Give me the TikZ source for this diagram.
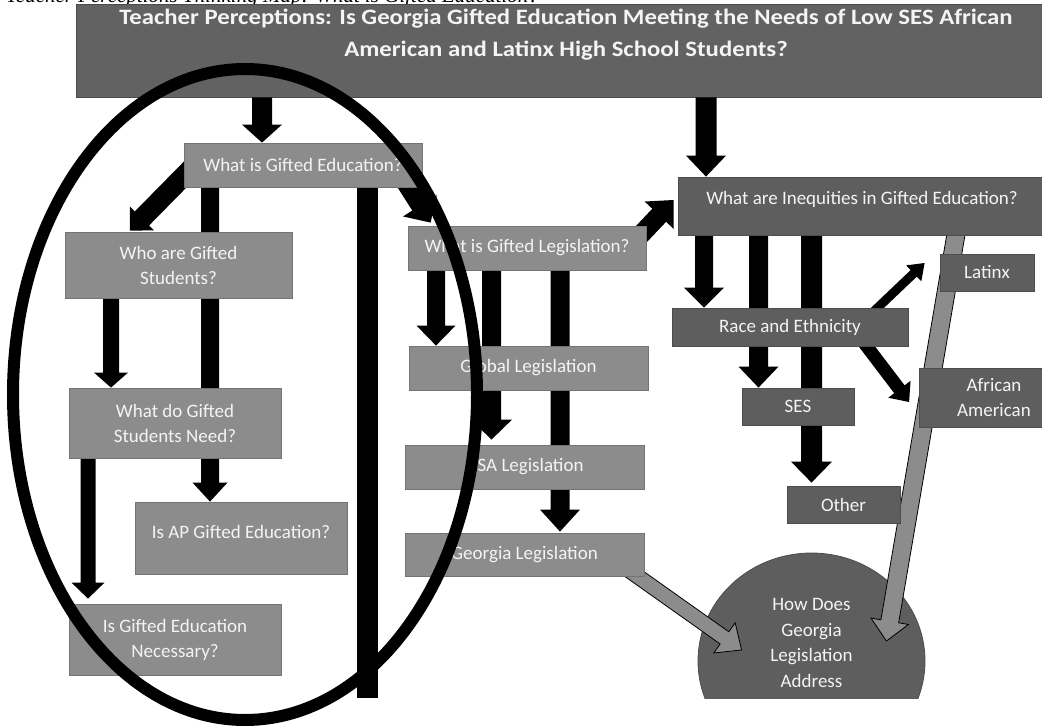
\documentclass[tikz,border=0pt]{standalone}
\usepackage{fontspec}
\setmainfont{Carlito}
\newfontfamily\capfont{Liberation Serif}
\usetikzlibrary{calc,shapes.geometric}

\definecolor{lightbox}{HTML}{8C8C8C}
\definecolor{lightedge}{HTML}{747474}
\definecolor{darkbox}{HTML}{5E5E5E}
\definecolor{darkedge}{HTML}{4C4C4C}
\definecolor{titlegray}{HTML}{626262}
\definecolor{boxtext}{HTML}{F4F4F4}

% Block arrow: [style]{from}{to}{half shaft width}{half head width}{head length}
\newcommand{\blockarrow}[6][fill=black,draw=none]{%
  \path (#3) coordinate (ba-t) (#2) coordinate (ba-s);
  \path ($(ba-t)!#6!(ba-s)$) coordinate (ba-h);
  \filldraw[#1] ($(ba-s)!#4!90:(ba-t)$) -- ($(ba-h)!#4!-90:(ba-s)$)
    -- ($(ba-h)!#5!-90:(ba-s)$) -- (ba-t) -- ($(ba-h)!#5!90:(ba-s)$)
    -- ($(ba-h)!#4!90:(ba-s)$) -- ($(ba-s)!#4!-90:(ba-t)$) -- cycle;
}

\tikzset{
  boxfont/.style={font=\fontsize{19}{25}\selectfont},
  lbox/.style={draw=lightedge, line width=0.8pt, fill=lightbox, inner sep=0pt,
    text=boxtext, align=center, boxfont},
  dbox/.style={draw=darkedge, line width=0.8pt, fill=darkbox, inner sep=0pt,
    text=boxtext, align=center, boxfont},
  btxt/.style={text=boxtext, align=center, inner sep=0pt, boxfont},
  ttxt/.style={text=boxtext, inner sep=0pt, anchor=base, xscale=1.125, transform shape,
    font=\bfseries\fontsize{22}{27}\selectfont},
  blk/.style={fill=black, draw=none},
  gry/.style={fill=lightbox, draw=black, line width=0.8pt, line join=miter},
}

\begin{document}
\begin{tikzpicture}[x=1pt,y=-1pt]
\useasboundingbox (0,0) rectangle (1042,727);

% caption running off the top edge
\node[anchor=base west, inner sep=0pt,
  font=\capfont\itshape\fontsize{21}{24}\selectfont] (caption) at (6,3)
  {Teacher Perceptions Thinking Map: What is Gifted Education?};

% title banner
\node[draw=darkedge, line width=0.8pt, fill=titlegray, minimum width=970pt,
  minimum height=93pt, inner sep=0pt] (title) at (561,50.5) {};
\node[ttxt] (titleA) at (566,25)
  {Teacher Perceptions: Is Georgia Gifted Education Meeting the Needs of Low SES African};
\node[ttxt] (titleB) at (566,57) {American and Latinx High School Students?};

% nodes (placed first so connectors can refer to them)
\node[lbox, minimum width=238pt, minimum height=44pt] (wge) at (303,165) {What is Gifted Education?};
\node[lbox, minimum width=227pt, minimum height=66pt] (who) at (178.5,265) {Who are Gifted\\Students?};
\node[lbox, minimum width=212pt, minimum height=70pt] (need) at (175,423) {What do Gifted\\Students Need?};
\node[lbox, minimum width=212pt, minimum height=72pt] (ap) at (241,538) {};
\node[lbox, minimum width=212pt, minimum height=71pt] (nec) at (175,639.5) {Is Gifted Education\\Necessary?};
\node[lbox, minimum width=238pt, minimum height=44pt] (wgl) at (527,248) {What is Gifted Legislation?};
\node[lbox, minimum width=239pt, minimum height=44pt] (glob) at (528.5,368) {Global Legislation};
\node[lbox, minimum width=239pt, minimum height=44pt] (usa) at (524.5,467) {USA Legislation};
\node[lbox, minimum width=239pt, minimum height=43pt] (geo) at (524.5,554.5) {Georgia Legislation};
\node[dbox, minimum width=366pt, minimum height=58pt] (ineq) at (861,206) {};
\node[dbox, minimum width=236pt, minimum height=38pt] (race) at (790,327) {Race and Ethnicity};
\node[dbox, minimum width=94pt, minimum height=37pt] (latinx) at (987,272.5) {Latinx};
\node[dbox, minimum width=150pt, minimum height=59pt] (afam) at (994,397.5) {African\\American};
\node[dbox, minimum width=112pt, minimum height=37pt] (ses) at (798,406.5) {SES};
\node[dbox, minimum width=113pt, minimum height=37pt] (other) at (843.5,504.5) {Other};

% the round node, cut off along the lower edge of the chart
\coordinate (cutline) at (0,698);
\begin{scope}
  \clip (0,0) rectangle (1042,698);
  \node[ellipse, draw=darkedge, line width=0.8pt, fill=darkbox, inner sep=0pt,
    minimum width=227pt, minimum height=216pt] (how) at (811.5,661) {};
\end{scope}
\node[btxt, font=\fontsize{19}{25.5}\selectfont] (howtext) at (811.5,643)
  {How Does\\Georgia\\Legislation\\Address};

% connector end points, tied to the nodes
\coordinate (a1e) at ([xshift=-41pt]wge.north);   \coordinate (a1s) at (a1e |- title.south);
\coordinate (a2e) at ([xshift=-155pt]ineq.north); \coordinate (a2s) at (a2e |- title.south);
\coordinate (a3s) at ([xshift=8pt,yshift=-3pt]wge.west);
\coordinate (a3e) at ([xshift=-48.5pt,yshift=1pt]who.north);
\coordinate (a4s) at ([xshift=-93pt]wge.south);   \coordinate (a4e) at (a4s |- ap.north);
\coordinate (a5s) at ([xshift=-67.5pt]who.south); \coordinate (a5e) at (a5s |- need.north);
\coordinate (a6s) at ([xshift=-87pt]need.south);  \coordinate (a6e) at ([yshift=5pt]a6s |- nec.north);
\coordinate (bars) at ([xshift=64.5pt]wge.south); \coordinate (bare) at (bars |- cutline);
\coordinate (a8s) at ([xshift=-24pt,yshift=-7pt]wge.east);
\coordinate (a8e) at ([xshift=23pt,yshift=3pt]wgl.north west);
\coordinate (a9s) at ([xshift=-21pt,yshift=-3pt]wgl.east);
\coordinate (a9e) at ([xshift=-4pt,yshift=6pt]ineq.west);
\coordinate (a10s) at ([xshift=-91pt]wgl.south);  \coordinate (a10e) at (a10s |- glob.north);
\coordinate (a11s) at ([xshift=-35.5pt]wgl.south); \coordinate (a11e) at ([yshift=5pt]a11s |- usa.north);
\coordinate (a12s) at ([xshift=33pt]wgl.south);   \coordinate (a12e) at ([yshift=1pt]a12s |- geo.north);
\coordinate (a13s) at ([xshift=-157pt]ineq.south); \coordinate (a13e) at (a13s |- race.north);
\coordinate (a14s) at ([xshift=-102.5pt]ineq.south); \coordinate (a14e) at (a14s |- ses.north);
\coordinate (a15s) at ([xshift=-49.5pt]ineq.south); \coordinate (a15e) at ([yshift=3pt]a15s |- other.north);
\coordinate (a16s) at ([xshift=-38pt,yshift=-7pt]race.north east);
\coordinate (a16e) at ([xshift=-15pt,yshift=9.5pt]latinx.west);
\coordinate (a17s) at ([xshift=-48pt,yshift=-11pt]race.east);
\coordinate (a17e) at ([xshift=-9.5pt,yshift=-4.5pt]afam.west);
\coordinate (g1s) at ([xshift=-18pt,yshift=8pt]geo.south east);
\coordinate (g1e) at ([xshift=44pt,yshift=11pt]how.west);
\coordinate (g2s) at ([xshift=96pt,yshift=7pt]ineq.south);
\coordinate (g2e) at ([xshift=-39pt,yshift=20pt]how.east);

% connectors, drawn beneath the boxes
\blockarrow[blk]{a1s}{a1e}{10pt}{20pt}{18pt}
\blockarrow[blk]{a2s}{a2e}{10.5pt}{20pt}{21pt}
\blockarrow[blk]{a3s}{a3e}{10pt}{17pt}{17pt}
\blockarrow[blk]{a4s}{a4e}{9pt}{17.5pt}{19pt}
\blockarrow[blk]{a5s}{a5e}{8pt}{17pt}{15pt}
\blockarrow[blk]{a6s}{a6e}{7.5pt}{16.5pt}{16pt}
\draw[line width=21pt, line cap=butt] (bars) -- (bare);
\blockarrow[blk]{a8s}{a8e}{9pt}{20pt}{20pt}
\blockarrow[blk]{a9s}{a9e}{9.5pt}{20pt}{21pt}
\blockarrow[blk]{a10s}{a10e}{9pt}{19.5pt}{20pt}
\blockarrow[blk]{a11s}{a11e}{9.5pt}{20.5pt}{20pt}
\blockarrow[blk]{a12s}{a12e}{9.5pt}{20pt}{22pt}
\blockarrow[blk]{a13s}{a13e}{9pt}{20pt}{20pt}
\blockarrow[blk]{a14s}{a14e}{9.5pt}{20pt}{21pt}
\blockarrow[blk]{a15s}{a15e}{10.5pt}{20.5pt}{21pt}
\blockarrow[blk]{a16s}{a16e}{4.5pt}{11pt}{15pt}
\blockarrow[blk]{a17s}{a17e}{6.5pt}{14pt}{16pt}
\blockarrow[gry]{g1s}{g1e}{7.5pt}{18.5pt}{21pt}
\blockarrow[gry]{g2s}{g2e}{9pt}{19pt}{20pt}

% boxes redrawn over the connectors that pass behind them
\node[lbox, minimum width=238pt, minimum height=44pt] at (wge) {What is Gifted Education?};
\node[lbox, minimum width=227pt, minimum height=66pt] at (who) {Who are Gifted\\Students?};
\node[lbox, minimum width=212pt, minimum height=70pt] at (need) {What do Gifted\\Students Need?};
\node[lbox, minimum width=212pt, minimum height=72pt] at (ap) {};
\node[btxt] (aptext) at ([yshift=6pt]ap.center) {Is AP Gifted Education?};
\node[lbox, minimum width=212pt, minimum height=71pt] at (nec) {Is Gifted Education\\Necessary?};
\node[lbox, minimum width=238pt, minimum height=44pt] at (wgl) {What is Gifted Legislation?};
\node[lbox, minimum width=239pt, minimum height=44pt] at (glob) {Global Legislation};
\node[lbox, minimum width=239pt, minimum height=44pt] at (usa) {USA Legislation};
\node[lbox, minimum width=239pt, minimum height=43pt] at (geo) {Georgia Legislation};
\node[dbox, minimum width=366pt, minimum height=58pt] at (ineq) {};
\node[btxt] (ineqtext) at ([xshift=1pt,yshift=7pt]ineq.center) {What are Inequities in Gifted Education?};
\node[dbox, minimum width=236pt, minimum height=38pt] at (race) {Race and Ethnicity};
\node[dbox, minimum width=94pt, minimum height=37pt] at (latinx) {Latinx};
\node[dbox, minimum width=150pt, minimum height=59pt] at (afam) {African\\American};
\node[dbox, minimum width=112pt, minimum height=37pt] at (ses) {SES};
\node[dbox, minimum width=113pt, minimum height=37pt] at (other) {Other};

% heavy hand-drawn ring round the left branch
\draw[line width=12pt] (245,394.5) ellipse [x radius=232pt, y radius=325.5pt];
\end{tikzpicture}
\end{document}
